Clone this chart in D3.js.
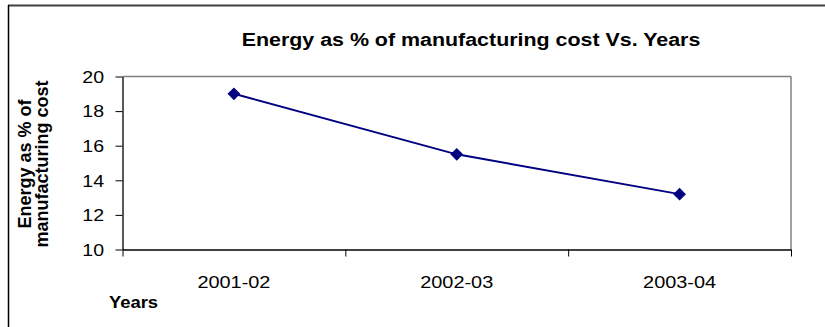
<!DOCTYPE html>
<html><head><meta charset="utf-8">
<script src="https://cdn.jsdelivr.net/npm/d3@7"></script>
<style>html,body{margin:0;padding:0;background:#fff;overflow:hidden}</style>
</head><body>
<script>
const categories = ["2001-02", "2002-03", "2003-04"];
const values = [19, 15.5, 13.2];
const yTicks = [10, 12, 14, 16, 18, 20];
const titleText = "Energy as % of manufacturing cost Vs. Years";
const yTitleLines = ["Energy as % of", "manufacturing cost"];
const xTitleText = "Years";

const W = 825, H = 327;
const FONT = "'Liberation Sans', Arial, sans-serif";
const svg = d3.select("body").append("svg").attr("width", W).attr("height", H);

// outer chart border
svg.append("line").attr("x1", 8).attr("x2", W).attr("y1", 5.5).attr("y2", 5.5)
  .attr("stroke", "#404040").attr("stroke-width", 2);
svg.append("line").attr("x1", 8.5).attr("x2", 8.5).attr("y1", 5).attr("y2", H)
  .attr("stroke", "#000").attr("stroke-width", 1.5);

const plot = {left: 122.5, right: 791, top: 76.5, bottom: 249.5};
const x = d3.scaleBand().domain(categories).range([plot.left, plot.right]).padding(0);
const y = d3.scaleLinear().domain([10, 20]).range([plot.bottom, plot.top]);

// plot area border top/right grey
svg.append("line").attr("x1", plot.left).attr("x2", plot.right).attr("y1", plot.top).attr("y2", plot.top)
  .attr("stroke", "#808080").attr("stroke-width", 1.5);
svg.append("line").attr("x1", plot.right).attr("x2", plot.right).attr("y1", plot.top).attr("y2", plot.bottom)
  .attr("stroke", "#808080").attr("stroke-width", 1.5);

// y axis
const yAxis = svg.append("g").attr("transform", `translate(${plot.left},0)`)
  .call(d3.axisLeft(y).tickValues(yTicks).tickSize(7).tickSizeOuter(0).tickFormat(""));
yAxis.select(".domain").attr("stroke", "#000").attr("stroke-width", 1.3);
yAxis.selectAll(".tick line").attr("stroke", "#000");

// x axis with ticks at category boundaries
const bounds = categories.map(c => x(c)).concat([x(categories[categories.length - 1]) + x.bandwidth()]);
const xLin = d3.scaleLinear().domain([plot.left, plot.right]).range([plot.left, plot.right]);
const xAxis = svg.append("g").attr("transform", `translate(0,${plot.bottom})`)
  .call(d3.axisBottom(xLin).tickValues(bounds).tickSize(7).tickSizeOuter(0).tickFormat(""));
xAxis.select(".domain").attr("stroke", "#000").attr("stroke-width", 1.5);
xAxis.selectAll(".tick line").attr("stroke", "#000");

// y tick labels
svg.selectAll(".ylab").data(yTicks).enter().append("text")
  .attr("transform", d => `translate(104,${y(d) + 6.3}) scale(1.15,1)`)
  .attr("text-anchor", "end").attr("font-family", FONT).attr("font-size", 17)
  .attr("fill", "#000").text(d => d);

// x tick labels
svg.selectAll(".xlab").data(categories).enter().append("text")
  .attr("transform", d => `translate(${x(d) + x.bandwidth() / 2},288) scale(1.17,1)`)
  .attr("text-anchor", "middle").attr("font-family", FONT).attr("font-size", 17)
  .attr("fill", "#000").text(d => d);

// title
svg.append("text").attr("transform", "translate(471,46) scale(1.19,1)")
  .attr("text-anchor", "middle").attr("font-family", FONT).attr("font-size", 18)
  .attr("font-weight", "bold").attr("fill", "#000").text(titleText);

// x title
svg.append("text").attr("transform", "translate(109,308) scale(1.15,1)")
  .attr("font-family", FONT).attr("font-size", 16)
  .attr("font-weight", "bold").attr("fill", "#000").text(xTitleText);

// y title (two lines)
const yTitleBase = [31, 48];
svg.selectAll(".ytitle").data(yTitleLines).enter().append("text")
  .attr("transform", (d, i) => `translate(${yTitleBase[i]},164) rotate(-90)`)
  .attr("text-anchor", "middle").attr("font-family", FONT).attr("font-size", 18)
  .attr("font-weight", "bold").attr("fill", "#000").text(d => d);

// line
const data = categories.map((c, i) => ({c, v: values[i]}));
const line = d3.line().x(d => x(d.c) + x.bandwidth() / 2).y(d => y(d.v));
svg.append("path").datum(data).attr("d", line)
  .attr("fill", "none").attr("stroke", "#000080").attr("stroke-width", 2);

// diamond markers
const diamond = d3.symbol().type(d3.symbolSquare).size(64);
svg.selectAll(".pt").data(data).enter().append("path")
  .attr("d", diamond)
  .attr("transform", d => `translate(${x(d.c) + x.bandwidth() / 2},${y(d.v)}) rotate(45)`)
  .attr("fill", "#000080").attr("stroke", "#000080").attr("stroke-width", 1);
</script>
</body></html>
